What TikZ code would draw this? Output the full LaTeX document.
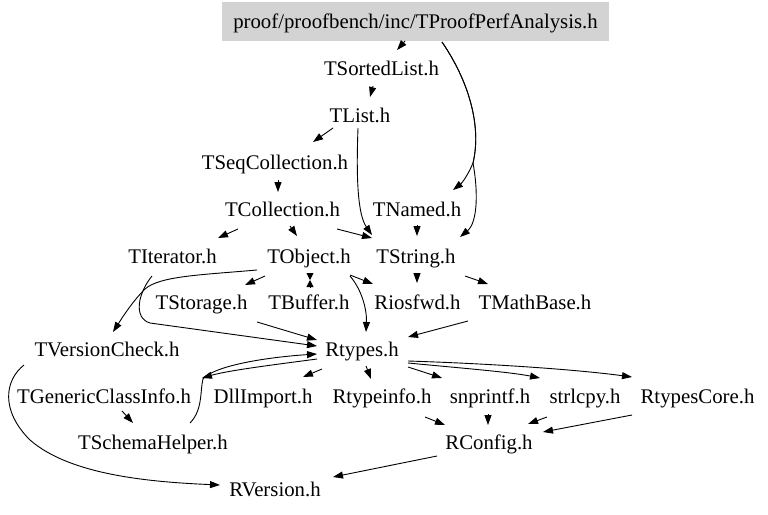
\documentclass[tikz,border=0pt]{standalone}
\usepackage{fontspec}
\setmainfont{Liberation Serif}
\usetikzlibrary{arrows.meta}
\definecolor{boxgray}{RGB}{211,211,211}
\tikzset{
  lbl/.style={anchor=base, inner sep=0pt, font=\fontsize{20.8}{25}\selectfont},
  edge/.style={draw=black, line width=0.9pt, -{Triangle[length=10pt,width=7pt]}},
  hgarrow/.style={draw=black, line width=0.9pt, -{Triangle[length=7pt,width=7pt]}},
}
\begin{document}
\begin{tikzpicture}[x=1pt,y=-1pt]
\useasboundingbox (0,0) rectangle (768,514);
% nodes
\node[lbl,fill=boxgray,inner xsep=11.5pt,inner ysep=8pt,text height=18pt,text depth=5pt] (main) at (415.5,28) {proof/proofbench/inc/TProofPerfAnalysis.h};
\node[lbl] (sorted) at (381.5,75) {TSortedList.h};
\node[lbl] (list) at (360,122) {TList.h};
\node[lbl] (seq) at (275,169) {TSeqCollection.h};
\node[lbl] (coll) at (282.5,216) {TCollection.h};
\node[lbl] (named) at (417,216) {TNamed.h};
\node[lbl] (iter) at (172.5,263) {TIterator.h};
\node[lbl] (tobj) at (309,263) {TObject.h};
\node[lbl] (tstr) at (416,263) {TString.h};
\node[lbl] (stor) at (201.5,309) {TStorage.h};
\node[lbl] (buf) at (309,309) {TBuffer.h};
\node[lbl] (rios) at (417.5,309) {Riosfwd.h};
\node[lbl] (math) at (535,309) {TMathBase.h};
\node[lbl] (vcheck) at (107,356) {TVersionCheck.h};
\node[lbl] (rtypes) at (362,356) {Rtypes.h};
\node[lbl] (gci) at (104,403) {TGenericClassInfo.h};
\node[lbl] (dll) at (263,403) {DllImport.h};
\node[lbl] (rti) at (382,403) {Rtypeinfo.h};
\node[lbl] (snp) at (490,403) {snprintf.h};
\node[lbl] (strl) at (585,403) {strlcpy.h};
\node[lbl] (core) at (697.5,403) {RtypesCore.h};
\node[lbl] (schema) at (153,449) {TSchemaHelper.h};
\node[lbl] (rconf) at (489,449) {RConfig.h};
\node[lbl] (rver) at (275,496) {RVersion.h};
\coordinate (hg) at (310,280);
% edges
\draw[edge] ([shift={(-10.5,13)}]main.base) -- ([shift={(15.5,-25)}]sorted.base);
\draw[edge] ([shift={(26.5,14)}]main.base) .. controls (468,80) and (482,125) .. (473,163) .. controls (468,175) and (462,183) .. ([shift={(36,-26)}]named.base);
\draw[edge] ([shift={(26.5,14)}]main.base) .. controls (468,80) and (482,125) .. (473,163) .. controls (478,190) and (478,222) .. ([shift={(44,-26)}]tstr.base);
\draw[edge] ([shift={(-8.5,11)}]sorted.base) -- ([shift={(10,-25)}]list.base);
\draw[edge] ([shift={(-27,6)}]list.base) -- ([shift={(38,-27)}]seq.base);
\draw[edge] ([shift={(-2,6)}]list.base) .. controls (356,180) and (358,215) .. ([shift={(-44,-28)}]tstr.base);
\draw[edge] ([shift={(3,11)}]seq.base) -- ([shift={(-4.5,-24)}]coll.base);
\draw[edge] ([shift={(-44.5,13)}]coll.base) -- ([shift={(45.5,-25)}]iter.base);
\draw[edge] ([shift={(7.5,10)}]coll.base) -- ([shift={(-12,-27)}]tobj.base);
\draw[edge] ([shift={(54.5,13)}]coll.base) -- ([shift={(-44,-25)}]tstr.base);
\draw[edge] ([shift={(0,9)}]named.base) -- ([shift={(1,-27)}]tstr.base);
\draw[edge] ([shift={(-44,13)}]tobj.base) -- ([shift={(43.5,-24)}]stor.base);
\draw[hgarrow] ([shift={(1,10)}]tobj.base) -- (hg);
\draw[hgarrow] ([shift={(1,-22)}]buf.base) -- (hg);
\draw[edge] ([shift={(41,12)}]tobj.base) -- ([shift={(-44.5,-25)}]rios.base);
\draw[edge] ([shift={(41,13)}]tobj.base) .. controls (362,290) and (367,310) .. ([shift={(4,-24)}]rtypes.base);
\draw[edge] ([shift={(-52,7)}]tobj.base) .. controls (200,275) and (160,276) .. (145,289) .. controls (132,302) and (122,318) .. ([shift={(6,-24)}]vcheck.base);
\draw[edge] ([shift={(-20.5,13)}]iter.base) .. controls (138,293) and (133,318) .. (150,323) -- ([shift={(-45,-10)}]rtypes.base);
\draw[edge] ([shift={(55.5,13)}]stor.base) -- ([shift={(-45,-16)}]rtypes.base);
\draw[edge] ([shift={(1,10)}]tstr.base) -- ([shift={(-0.5,-26)}]rios.base);
\draw[edge] ([shift={(49,13)}]tstr.base) -- ([shift={(-47,-25)}]math.base);
\draw[edge] ([shift={(-67,12)}]math.base) -- ([shift={(46,-19)}]rtypes.base);
\draw[edge] ([shift={(-45,3)}]rtypes.base) .. controls (280,364) and (230,370) .. ([shift={(98,-25)}]gci.base);
\draw[edge] ([shift={(37,-26)}]schema.base) .. controls (203,410) and (200,390) .. (203,379) .. controls (215,365) and (270,357) .. ([shift={(-45,-2)}]rtypes.base);
\draw[edge] ([shift={(18,8)}]gci.base) -- ([shift={(-20,-26)}]schema.base);
\draw[edge] ([shift={(-40,13)}]rtypes.base) -- ([shift={(40,-26)}]dll.base);
\draw[edge] ([shift={(4,10)}]rtypes.base) -- ([shift={(-11,-24)}]rti.base);
\draw[edge] ([shift={(46,11)}]rtypes.base) -- ([shift={(-48,-25)}]snp.base);
\draw[edge] ([shift={(46,7)}]rtypes.base) .. controls (460,368) and (510,372) .. ([shift={(-45,-25)}]strl.base);
\draw[edge] ([shift={(46,5)}]rtypes.base) .. controls (500,364) and (580,370) .. ([shift={(-65.5,-26)}]core.base);
\draw[edge] ([shift={(43,14)}]rti.base) -- ([shift={(-44,-24)}]rconf.base);
\draw[edge] ([shift={(-2,11)}]snp.base) -- ([shift={(-1,-24)}]rconf.base);
\draw[edge] ([shift={(-38,14)}]strl.base) -- ([shift={(39,-25)}]rconf.base);
\draw[edge] ([shift={(-65.5,12)}]core.base) -- ([shift={(54,-17)}]rconf.base);
\draw[edge] ([shift={(-52,7)}]rconf.base) -- ([shift={(58,-19)}]rver.base);
\draw[edge] ([shift={(-83,9)}]vcheck.base) .. controls (5,380) and (0,410) .. (30,440) .. controls (70,475) and (150,482) .. ([shift={(-55,-11)}]rver.base);
\end{tikzpicture}
\end{document}
